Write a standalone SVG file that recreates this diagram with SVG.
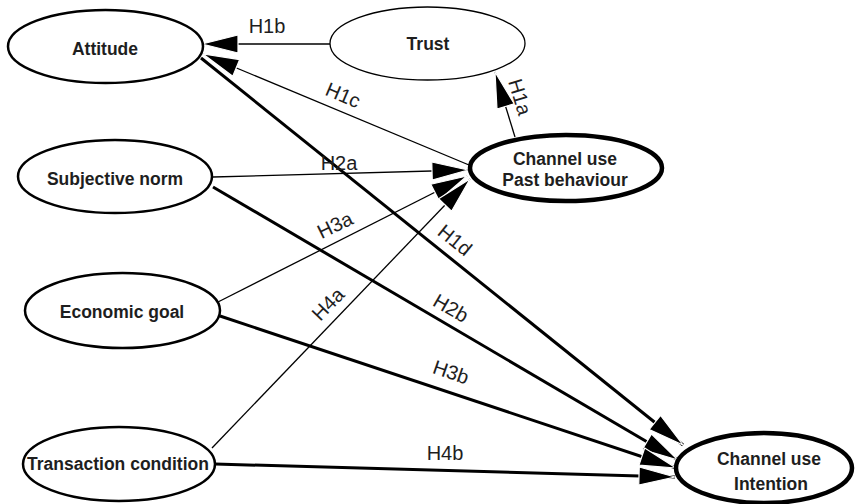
<svg xmlns="http://www.w3.org/2000/svg" width="855" height="504" viewBox="0 0 855 504">
  <style>
    .node { fill: #ffffff; stroke: #000000; }
    .n-med { stroke-width: 2.5; }
    .n-thin { stroke-width: 1.3; }
    .n-thick { stroke-width: 4.5; }
    .ntext { font-family: "Liberation Sans", Arial, sans-serif; font-size: 17.5px; font-weight: bold; fill: #1e1e1e; text-anchor: middle; }
    .edge { fill: none; stroke: #000000; }
    .thin { stroke-width: 1.3; marker-end: url(#arrow); }
    .thick { stroke-width: 3; marker-end: url(#arrow); }
    .label { font-family: "Liberation Sans", Arial, sans-serif; font-size: 20px; fill: #1e1e1e; text-anchor: middle; }
  </style>
  <defs>
    <marker id="arrow" markerUnits="userSpaceOnUse" markerWidth="38" markerHeight="20" refX="36" refY="10" orient="auto" viewBox="-1 0 38 20">
      <path d="M0,1 L36,10 L0,19 Z" fill="#000000" stroke="#ffffff" stroke-width="1.2" stroke-linejoin="miter"/>
    </marker>
  </defs>
  <rect x="0" y="0" width="855" height="504" fill="#ffffff"/>

  <g id="connectors">
    <path class="edge thin" d="M330,44 L202,44"/>
    <path class="edge thin" d="M469,165 L203,54"/>
    <path class="edge thin" d="M515,137 L495,72"/>
    <path class="edge thin" d="M213,177 L468,170"/>
    <path class="edge thin" d="M218,302 L467,176"/>
    <path class="edge thin" d="M212,448 L470,179"/>
    <path class="edge thick" d="M201,58 L683,445"/>
    <path class="edge thick" d="M213,187 L678,460"/>
    <path class="edge thick" d="M220,316 L676,468"/>
    <path class="edge thick" d="M215,464 L675,477"/>

    <text class="label" x="267" y="33">H1b</text>
    <text class="label" transform="translate(343,95) rotate(23)" x="0" y="7">H1c</text>
    <text class="label" transform="translate(520,97) rotate(73)" x="0" y="7">H1a</text>
    <text class="label" x="339" y="170">H2a</text>
    <text class="label" transform="translate(335,225) rotate(-26)" x="0" y="7">H3a</text>
    <text class="label" transform="translate(455,240) rotate(39)" x="0" y="7">H1d</text>
    <text class="label" transform="translate(328,304) rotate(-46)" x="0" y="7">H4a</text>
    <text class="label" transform="translate(451,308) rotate(30)" x="0" y="7">H2b</text>
    <text class="label" transform="translate(451,372) rotate(19)" x="0" y="7">H3b</text>
    <text class="label" x="445" y="460">H4b</text>
  </g>

  <g id="attitude">
    <ellipse class="node n-med" cx="105.5" cy="46.5" rx="97.5" ry="36.5"/>
    <text class="ntext" x="105" y="55">Attitude</text>
  </g>
  <g id="trust">
    <ellipse class="node n-thin" cx="427.5" cy="43.5" rx="97.5" ry="36.5"/>
    <text class="ntext" x="428" y="50">Trust</text>
  </g>
  <g id="subjective-norm">
    <ellipse class="node n-med" cx="115" cy="176.5" rx="97" ry="36.5"/>
    <text class="ntext" x="115" y="185">Subjective norm</text>
  </g>
  <g id="economic-goal">
    <ellipse class="node n-med" cx="122.5" cy="310.5" rx="97.5" ry="37.5"/>
    <text class="ntext" x="122" y="318">Economic goal</text>
  </g>
  <g id="transaction-condition">
    <ellipse class="node n-med" cx="119" cy="464" rx="96" ry="37"/>
    <text class="ntext" x="118" y="470">Transaction condition</text>
  </g>
  <g id="past-behaviour">
    <ellipse class="node n-thick" cx="566" cy="168" rx="96" ry="33"/>
    <text class="ntext" x="565" y="165">Channel use</text>
    <text class="ntext" x="565" y="186">Past behaviour</text>
  </g>
  <g id="intention">
    <ellipse class="node n-thick" cx="764" cy="468" rx="88" ry="35"/>
    <text class="ntext" x="769" y="465">Channel use</text>
    <text class="ntext" x="771" y="490">Intention</text>
  </g>
</svg>
